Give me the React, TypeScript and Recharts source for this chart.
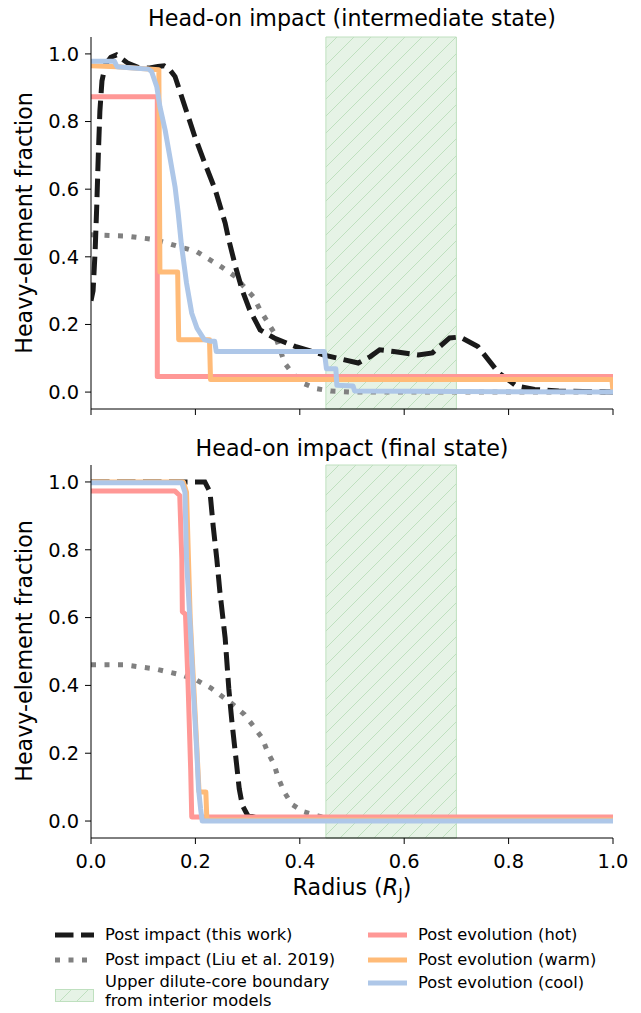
import React from 'react';
import { LineChart, Line, XAxis, YAxis, ReferenceArea } from 'recharts';

const FONT = '"DejaVu Sans", sans-serif';

// top panel: head-on impact, intermediate state
const topImpactX = [0, 0.004, 0.008, 0.011, 0.014, 0.017, 0.021, 0.028, 0.038, 0.049, 0.06, 0.071, 0.09, 0.11, 0.128, 0.14, 0.15, 0.161, 0.18, 0.199, 0.218, 0.238, 0.257, 0.264, 0.277, 0.29, 0.304, 0.324, 0.351, 0.391, 0.445, 0.512, 0.535, 0.553, 0.58, 0.627, 0.654, 0.687, 0.707, 0.741, 0.781, 0.815, 0.85, 0.896, 1.0];
const topImpactY = [0.27, 0.3, 0.42, 0.55, 0.7, 0.83, 0.92, 0.97, 0.99, 0.997, 0.985, 0.972, 0.96, 0.958, 0.963, 0.965, 0.955, 0.933, 0.844, 0.755, 0.677, 0.598, 0.5, 0.45, 0.37, 0.3, 0.243, 0.184, 0.16, 0.135, 0.11, 0.086, 0.105, 0.125, 0.12, 0.11, 0.116, 0.16, 0.163, 0.135, 0.057, 0.018, 0.008, 0.003, 0.0];

const topLiuX = [0, 0.069, 0.122, 0.149, 0.203, 0.25, 0.277, 0.29, 0.311, 0.324, 0.351, 0.371, 0.385, 0.405, 0.432, 0.459, 0.5, 1.0];
const topLiuY = [0.465, 0.461, 0.451, 0.439, 0.415, 0.37, 0.341, 0.317, 0.282, 0.243, 0.175, 0.086, 0.057, 0.027, 0.01, 0.003, 0.0, 0.0];

const topHotX = [0, 0.127, 0.127, 1.0];
const topHotY = [0.873, 0.873, 0.046, 0.046];

const topWarmX = [0, 0.05, 0.13, 0.132, 0.166, 0.168, 0.227, 0.229, 0.998, 1.0];
const topWarmY = [0.965, 0.962, 0.953, 0.355, 0.355, 0.155, 0.155, 0.037, 0.037, 0.0];

const topCoolX = [0, 0.045, 0.05, 0.08, 0.11, 0.116, 0.126, 0.132, 0.142, 0.151, 0.161, 0.167, 0.173, 0.183, 0.193, 0.203, 0.217, 0.23, 0.237, 0.24, 0.447, 0.451, 0.469, 0.471, 0.502, 0.505, 1.0];
const topCoolY = [0.978, 0.978, 0.962, 0.958, 0.955, 0.948, 0.903, 0.844, 0.775, 0.696, 0.607, 0.53, 0.439, 0.322, 0.233, 0.189, 0.155, 0.15, 0.15, 0.12, 0.12, 0.069, 0.069, 0.02, 0.018, 0.003, 0.0];

// bottom panel: head-on impact, final state
const botImpactX = [0, 0.218, 0.228, 0.234, 0.241, 0.247, 0.257, 0.264, 0.27, 0.277, 0.284, 0.29, 0.3, 0.324, 0.4, 1.0];
const botImpactY = [1.0, 1.0, 0.97, 0.871, 0.773, 0.675, 0.54, 0.39, 0.292, 0.194, 0.095, 0.046, 0.017, 0.007, 0.003, 0.002];

const botLiuX = [0, 0.062, 0.122, 0.176, 0.203, 0.23, 0.27, 0.294, 0.311, 0.328, 0.338, 0.351, 0.358, 0.37, 0.385, 0.408, 0.435, 0.459, 0.5, 1.0];
const botLiuY = [0.461, 0.461, 0.449, 0.43, 0.415, 0.392, 0.346, 0.314, 0.28, 0.245, 0.205, 0.166, 0.13, 0.086, 0.049, 0.027, 0.015, 0.007, 0.003, 0.003];

const botHotX = [0, 0.161, 0.17, 0.174, 0.175, 0.181, 0.186, 0.191, 0.193, 1.0];
const botHotY = [0.973, 0.973, 0.96, 0.773, 0.617, 0.61, 0.4, 0.15, 0.012, 0.012];

const botWarmX = [0, 0.177, 0.183, 0.19, 0.2, 0.207, 0.22, 0.222, 1.0];
const botWarmY = [1.0, 1.0, 0.97, 0.6, 0.3, 0.086, 0.086, 0.003, 0.003];

const botCoolX = [0, 0.174, 0.18, 0.183, 0.19, 0.196, 0.203, 0.206, 0.21, 0.213, 1.0];
const botCoolY = [0.998, 0.998, 0.97, 0.773, 0.576, 0.39, 0.194, 0.095, 0.036, 0.0, 0.0];

const xTicks = [0, 0.2, 0.4, 0.6, 0.8, 1.0];
const yTicks = [0, 0.2, 0.4, 0.6, 0.8, 1.0];
const coreLo = 0.45;
const coreHi = 0.7;

const legendLeft = ['Post impact (this work)', 'Post impact (Liu et al. 2019)'];
const legendRight = ['Post evolution (hot)', 'Post evolution (warm)', 'Post evolution (cool)'];

const pts = (xs: number[], ys: number[]) => xs.map((x, i) => ({ x, y: ys[i] }));

const C = {
  impact: '#1a1a1a',
  liu: '#808080',
  hot: '#ff9896',
  warm: '#ffbb78',
  cool: '#aec7e8',
  green: '#e6f3e6',
  hatch: '#bfe0bf',
};

const DASH = '18.5 7.5';
const DOTS = '5 8.5';
const LW = 5;

const hatchDefs = (id: string) => (
  <defs>
    <pattern id={id} patternUnits="userSpaceOnUse" width={17} height={17}>
      <rect width={17} height={17} fill={C.green} />
      <path d="M0,17 L17,0 M-4,4 L4,-4 M13,21 L21,13" stroke={C.hatch} strokeWidth={1} />
    </pattern>
  </defs>
);

const tickStyle = { fill: '#000', fontSize: 19.4, fontFamily: FONT };

type Panel = {
  id: string;
  impact: [number[], number[]];
  liu: [number[], number[]];
  hot: [number[], number[]];
  warm: [number[], number[]];
  cool: [number[], number[]];
};

const PanelChart = ({ p, height, top, axisH, showX }: { p: Panel; height: number; top: number; axisH: number; showX: boolean }) => (
  <LineChart width={641} height={height} margin={{ top, right: 28, bottom: 0, left: 0 }}>
    {hatchDefs(p.id)}
    <ReferenceArea x1={coreLo} x2={coreHi} y1={-0.05} y2={1.05} fill={`url(#${p.id})`} fillOpacity={1} stroke={C.hatch} strokeWidth={1} />
    <XAxis
      dataKey="x"
      type="number"
      domain={[0, 1]}
      ticks={xTicks}
      allowDataOverflow
      height={axisH}
      tickSize={6}
      tickMargin={10}
      stroke="#000"
      tick={tickStyle}
      tickFormatter={(v: number) => (showX ? v.toFixed(1) : '')}
    />
    <XAxis xAxisId="top" orientation="top" type="number" domain={[0, 1]} height={0} tick={false} tickLine={false} stroke="#000" />
    <YAxis
      type="number"
      domain={[-0.05, 1.05]}
      ticks={yTicks}
      allowDataOverflow
      width={91}
      tickSize={6}
      tickMargin={6}
      stroke="#000"
      tick={tickStyle}
      tickFormatter={(v: number) => v.toFixed(1)}
    />
    <YAxis yAxisId="right" orientation="right" type="number" domain={[0, 1]} width={0} tick={false} tickLine={false} stroke="#000" />
    <Line data={pts(...p.liu)} dataKey="y" type="linear" stroke={C.liu} strokeWidth={LW} strokeDasharray={DOTS} dot={false} isAnimationActive={false} />
    <Line data={pts(...p.impact)} dataKey="y" type="linear" stroke={C.impact} strokeWidth={LW} strokeDasharray={DASH} dot={false} isAnimationActive={false} />
    <Line data={pts(...p.hot)} dataKey="y" type="linear" stroke={C.hot} strokeWidth={LW} strokeLinejoin="round" dot={false} isAnimationActive={false} />
    <Line data={pts(...p.warm)} dataKey="y" type="linear" stroke={C.warm} strokeWidth={LW} strokeLinejoin="round" dot={false} isAnimationActive={false} />
    <Line data={pts(...p.cool)} dataKey="y" type="linear" stroke={C.cool} strokeWidth={LW} strokeLinejoin="round" dot={false} isAnimationActive={false} />
  </LineChart>
);

const topPanel: Panel = {
  id: 'hatchTop',
  impact: [topImpactX, topImpactY],
  liu: [topLiuX, topLiuY],
  hot: [topHotX, topHotY],
  warm: [topWarmX, topWarmY],
  cool: [topCoolX, topCoolY],
};

const botPanel: Panel = {
  id: 'hatchBot',
  impact: [botImpactX, botImpactY],
  liu: [botLiuX, botLiuY],
  hot: [botHotX, botHotY],
  warm: [botWarmX, botWarmY],
  cool: [botCoolX, botCoolY],
};

const abs = (left: number, top: number, extra: React.CSSProperties = {}): React.CSSProperties => ({
  position: 'absolute',
  left,
  top,
  whiteSpace: 'nowrap',
  ...extra,
});

const SW = 39; // legend handle length

const Sample = ({ kind }: { kind: string }) => {
  if (kind === 'hatch') {
    return (
      <svg width={SW} height={14} style={{ display: 'block' }}>
        {hatchDefs('hatchLegend')}
        <rect x={0.5} y={0.5} width={SW - 1} height={12} fill="url(#hatchLegend)" stroke={C.hatch} />
      </svg>
    );
  }
  const style: Record<string, { stroke: string; dash?: string }> = {
    impact: { stroke: C.impact, dash: DASH },
    liu: { stroke: C.liu, dash: DOTS },
    hot: { stroke: C.hot },
    warm: { stroke: C.warm },
    cool: { stroke: C.cool },
  };
  const s = style[kind];
  return (
    <svg width={SW} height={8} style={{ display: 'block' }}>
      <line x1={0} y1={4} x2={SW} y2={4} stroke={s.stroke} strokeWidth={LW} strokeDasharray={s.dash} />
    </svg>
  );
};

export default function App() {
  const legendFont: React.CSSProperties = { fontFamily: FONT, fontSize: 16.3, color: '#000', lineHeight: '18.5px' };
  const lx = 55;
  const rx = 368;
  return (
    <div style={{ position: 'absolute', left: 0, top: 0, width: 641, height: 1013, background: '#fff', fontFamily: FONT }}>
      <div style={abs(352, 18, { transform: 'translate(-50%, -50%)', fontSize: 22.2 })}>Head-on impact (intermediate state)</div>
      <div style={abs(352, 448, { transform: 'translate(-50%, -50%)', fontSize: 22.2 })}>Head-on impact (final state)</div>
      <div style={abs(24, 223, { transform: 'translate(-50%, -50%) rotate(-90deg)', fontSize: 22.2 })}>Heavy-element fraction</div>
      <div style={abs(24, 651, { transform: 'translate(-50%, -50%) rotate(-90deg)', fontSize: 22.2 })}>Heavy-element fraction</div>
      <div style={abs(352, 889, { transform: 'translate(-50%, -50%)', fontSize: 22.2 })}>
        Radius (<i style={{ fontFamily: FONT }}>R</i>
        <sub style={{ fontSize: 15.5 }}>J</sub>)
      </div>

      <div style={abs(0, 0)}>
        <PanelChart p={topPanel} height={430} top={37} axisH={21} showX={false} />
      </div>
      <div style={abs(0, 430)}>
        <PanelChart p={botPanel} height={470} top={35} axisH={62} showX={true} />
      </div>

      <div style={abs(lx, 931)}><Sample kind="impact" /></div>
      <div style={abs(lx + 50, 935, { ...legendFont, transform: 'translateY(-50%)' })}>{legendLeft[0]}</div>
      <div style={abs(lx, 956)}><Sample kind="liu" /></div>
      <div style={abs(lx + 50, 960, { ...legendFont, transform: 'translateY(-50%)' })}>{legendLeft[1]}</div>
      <div style={abs(lx, 989)}><Sample kind="hatch" /></div>
      <div style={abs(lx + 50, 973, { ...legendFont })}>
        Upper dilute-core boundary
        <br />
        from interior models
      </div>

      <div style={abs(rx, 931)}><Sample kind="hot" /></div>
      <div style={abs(rx + 50, 935, { ...legendFont, transform: 'translateY(-50%)' })}>{legendRight[0]}</div>
      <div style={abs(rx, 956)}><Sample kind="warm" /></div>
      <div style={abs(rx + 50, 960, { ...legendFont, transform: 'translateY(-50%)' })}>{legendRight[1]}</div>
      <div style={abs(rx, 979)}><Sample kind="cool" /></div>
      <div style={abs(rx + 50, 983, { ...legendFont, transform: 'translateY(-50%)' })}>{legendRight[2]}</div>
    </div>
  );
}
